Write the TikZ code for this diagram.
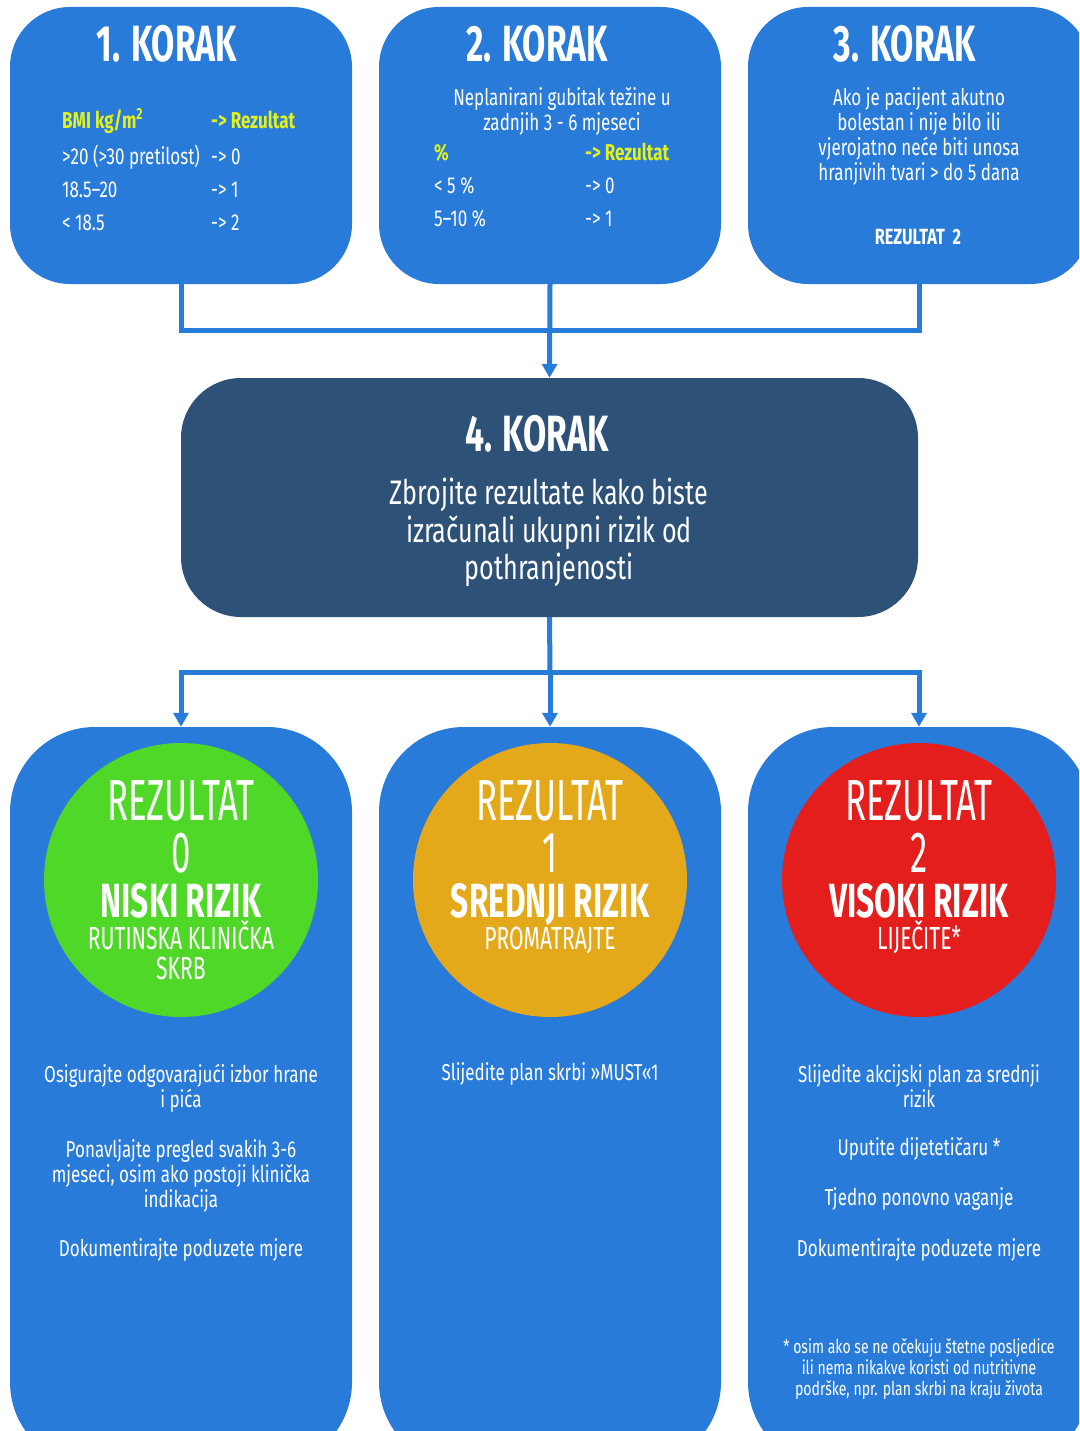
\documentclass[tikz,border=0pt]{standalone}
\usepackage{fontspec}
\setmainfont{Fira Sans}[FakeStretch=0.74]
\newfontfamily\headfont{Fira Sans}[FakeStretch=0.66]
\newfontfamily\narrowfont{Fira Sans}[FakeStretch=0.60]
\usetikzlibrary{arrows.meta,positioning}
\definecolor{stepblue}{RGB}{41,123,217}
\definecolor{sumnavy}{RGB}{46,81,120}
\definecolor{headyellow}{RGB}{226,240,32}
\definecolor{lowgreen}{RGB}{80,216,40}
\definecolor{midorange}{RGB}{228,168,27}
\definecolor{highred}{RGB}{228,29,29}

\begin{document}
\begin{tikzpicture}[
  x=1pt, y=-1pt,
  stepbox/.style={fill=stepblue, rounded corners=60pt, minimum width=342pt,
                  minimum height=277pt, inner sep=0pt},
  sumbox/.style={fill=sumnavy, rounded corners=60pt, minimum width=737pt,
                 minimum height=239pt, inner sep=0pt},
  riskbox/.style={fill=stepblue, rounded corners=85pt, minimum width=342pt,
                  minimum height=740pt, inner sep=0pt},
  riskcirc/.style={circle, minimum size=274pt, inner sep=0pt},
  title/.style={anchor=base, text=white, inner sep=0pt,
                font=\headfont\fontsize{51}{55}\selectfont\bfseries},
  body/.style={text=white, align=center, inner sep=0pt,
               font=\fontsize{23}{25}\selectfont},
  tab/.style={text=white, inner sep=0pt, anchor=base west,
              font=\fontsize{23}{24}\selectfont},
  big/.style={text=white, anchor=base, inner sep=0pt, text depth=0pt,
              font=\narrowfont\fontsize{58}{60}\selectfont},
  risk/.style={text=white, anchor=base, inner sep=0pt, text depth=0pt,
               text height=33pt, font=\headfont\fontsize{48}{50}\selectfont\bfseries},
  sub/.style={text=white, anchor=base, inner sep=0pt, text height=23pt,
              font=\headfont\fontsize{32}{30}\selectfont},
  note/.style={text=white, align=center, inner sep=0pt,
               font=\fontsize{19}{21}\selectfont},
  conn/.style={draw=stepblue, line width=5pt},
  arr/.style={conn, -{Triangle[width=15pt,length=14pt]}}
]
\useasboundingbox (0,0) rectangle (1079,1431);
\fill[white] (0,0) rectangle (1079,1431);
\clip (0,0) rectangle (1079,1431);

% three steps
\node[stepbox] (k1) at (181,145.5) {};
\node[stepbox] (k2) at (550,145.5) {};
\node[stepbox] (k3) at (919,145.5) {};

\node[title] (k1t) at (167,62) {1. KORAK};
\node[tab] (k1tab) at (62,129) {\begin{tabular}[t]{@{}p{149pt}@{}l@{}}
  \textcolor{headyellow}{\bfseries BMI kg/m\textsuperscript{2}} & \textcolor{headyellow}{\bfseries -> Rezultat}\\[9pt]
  \mbox{>20 (>30 pretilost)} & -> 0\\[9pt]
  18.5--20 & -> 1\\[9pt]
  < 18.5 & -> 2
\end{tabular}};

\node[title] (k2t) at (537,62) {2. KORAK};
\node[body, anchor=north] (k2txt) at (562,87) {Neplanirani gubitak težine u\\zadnjih 3 - 6 mjeseci};
\node[tab] (k2tab) at (434,161) {\begin{tabular}[t]{@{}p{151pt}@{}l@{}}
  \textcolor{headyellow}{\bfseries \%} & \textcolor{headyellow}{\bfseries -> Rezultat}\\[9pt]
  < 5 \% & -> 0\\[9pt]
  5--10 \% & -> 1
\end{tabular}};

\node[title] (k3t) at (905,62) {3. KORAK};
\node[body, anchor=north] (k3txt) at (919,87) {Ako je pacijent akutno\\bolestan i nije bilo ili\\vjerojatno neće biti unosa\\hranjivih tvari > do 5 dana};
\node[tab, anchor=base, font=\fontsize{22}{24}\selectfont\bfseries] (k3res) at (918,245) {REZULTAT\ \ 2};

% total
\node[sumbox] (k4) at (549.5,497.5) {};
\node[title] (k4t) at (537,451) {4. KORAK};
\node[body, anchor=north, font=\fontsize{34}{37.5}\selectfont] (k4txt) at (549,478)
  {Zbrojite rezultate kako biste\\izračunali ukupni rizik od\\pothranjenosti};

\coordinate (topjoin) at (550,330);
\draw[conn] (k1.south) |- (topjoin) -| (k3.south);
\draw[arr] (k2.south) -- (k4.north);

% risk columns
\node[riskbox] (r0) at (181,1097) {};
\node[riskbox] (r1) at (550,1097) {};
\node[riskbox] (r2) at (919,1097) {};

\coordinate (botjoin) at (550,672);
\draw[conn] (k4.south) -- (botjoin);
\draw[arr] (botjoin) -| (r0.north);
\draw[arr] (botjoin) -- (r1.north);
\draw[arr] (botjoin) -| (r2.north);

\node[riskcirc, fill=lowgreen] (c0) at (181,880) {};
\node[riskcirc, fill=midorange] (c1) at (550,880) {};
\node[riskcirc, fill=highred] (c2) at (919,880) {};

\node[big] (c0a) at (181,820) {REZULTAT};
\node[big] (c0b) at (181,872) {0};
\node[risk] (c0c) at (181,917) {NISKI RIZIK};
\node[sub] (c0d) at (181,949) {RUTINSKA KLINIČKA};
\node[sub] (c0e) at (181,979) {SKRB};

\node[big] (c1a) at (550,820) {REZULTAT};
\node[big] (c1b) at (550,872) {1};
\node[risk] (c1c) at (550,917) {SREDNJI RIZIK};
\node[sub] (c1d) at (550,949) {PROMATRAJTE};

\node[big] (c2a) at (919,820) {REZULTAT};
\node[big] (c2b) at (919,872) {2};
\node[risk] (c2c) at (919,917) {VISOKI RIZIK};
\node[sub] (c2d) at (919,949) {LIJEČITE*};

% actions
\node[body, anchor=north] (a0a) at (181,1064) {Osigurajte odgovarajući izbor hrane\\i pića};
\node[body, anchor=north] (a0b) at (181,1139) {Ponavljajte pregled svakih 3-6\\mjeseci, osim ako postoji klinička\\indikacija};
\node[body, anchor=base] (a0c) at (181,1256) {Dokumentirajte poduzete mjere};

\node[body, anchor=base] (a1a) at (550,1080) {Slijedite plan skrbi »MUST«1};

\node[body, anchor=north] (a2a) at (919,1064) {Slijedite akcijski plan za srednji\\rizik};
\node[body, anchor=base] (a2b) at (919,1155) {Uputite dijetetičaru *};
\node[body, anchor=base] (a2c) at (919,1205) {Tjedno ponovno vaganje};
\node[body, anchor=base] (a2d) at (919,1256) {Dokumentirajte poduzete mjere};
\node[note, anchor=north] (a2e) at (919,1338) {* osim ako se ne očekuju štetne posljedice\\ili nema nikakve koristi od nutritivne\\podrške, npr. plan skrbi na kraju života};
\end{tikzpicture}
\end{document}
